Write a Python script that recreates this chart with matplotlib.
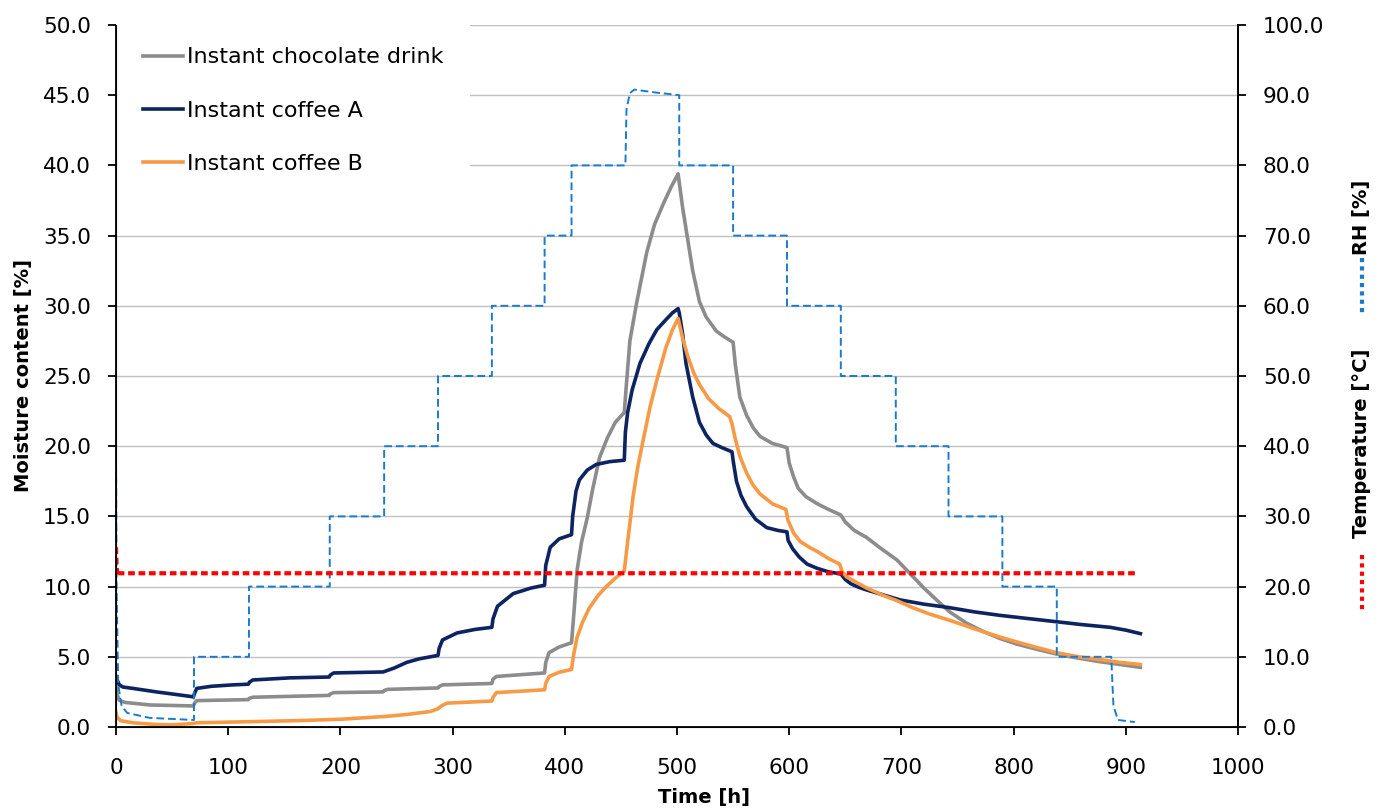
import numpy as np
import matplotlib.pyplot as plt
from matplotlib.lines import Line2D

plt.rcParams['font.family'] = ['DejaVu Sans']

# moisture content [%] vs time [h]
choc_t = [0, 1, 3, 8, 30, 69, 70, 72, 118, 119, 122, 190, 191, 194, 238, 239, 242,
          287, 288, 291, 335, 336, 339, 382, 383, 386, 395, 406, 408, 411, 415, 420,
          425, 431, 438, 445, 453, 455, 458, 464, 473, 480, 488, 495, 501, 505, 509,
          514, 520, 526, 535, 542, 550, 552, 556, 562, 568, 574, 585, 598, 600, 604,
          608, 615, 625, 635, 646, 650, 658, 669, 682, 696, 708, 720, 732, 743, 758,
          773, 788, 803, 820, 838, 858, 877, 895, 913]
choc_v = [2.9, 2.3, 1.9, 1.75, 1.57, 1.5, 1.7, 1.88, 1.95, 2.05, 2.12, 2.25, 2.35, 2.45,
          2.5, 2.6, 2.68, 2.78, 2.88, 3.0, 3.1, 3.4, 3.6, 3.85, 4.6, 5.3, 5.7, 6.0, 8.0,
          11.2, 13.2, 14.9, 17.0, 19.2, 20.6, 21.7, 22.4, 24.5, 27.5, 30.2, 33.8, 35.8,
          37.3, 38.5, 39.4, 37.0, 35.0, 32.5, 30.3, 29.2, 28.2, 27.8, 27.4, 25.8, 23.5,
          22.2, 21.3, 20.7, 20.2, 19.9, 18.8, 17.8, 17.0, 16.4, 15.9, 15.5, 15.1, 14.6,
          14.0, 13.5, 12.7, 11.9, 10.9, 9.9, 9.0, 8.2, 7.4, 6.8, 6.3, 5.9, 5.55, 5.2,
          4.9, 4.65, 4.45, 4.25]

coffA_t = [0, 1, 3, 6, 15, 36, 55, 69, 70, 72, 85, 104, 118, 119, 122, 155, 190, 191,
           194, 238, 248, 259, 270, 287, 288, 291, 304, 320, 335, 336, 340, 354, 370,
           382, 383, 387, 395, 406, 407, 410, 413, 420, 428, 440, 453, 454, 456, 460,
           467, 475, 482, 490, 496, 501, 502, 505, 508, 514, 520, 526, 532, 540, 549,
           550, 553, 557, 562, 570, 580, 590, 598, 599, 603, 609, 616, 625, 635, 646,
           650, 655, 662, 669, 680, 699, 720, 743, 765, 788, 810, 838, 860, 886, 900, 913]
coffA_v = [3.6, 3.35, 3.0, 2.85, 2.75, 2.5, 2.3, 2.15, 2.4, 2.75, 2.9, 3.0, 3.05, 3.2,
           3.35, 3.5, 3.56, 3.7, 3.85, 3.92, 4.2, 4.6, 4.85, 5.1, 5.6, 6.2, 6.7, 6.95,
           7.1, 7.7, 8.6, 9.5, 9.9, 10.1, 11.5, 12.8, 13.4, 13.7, 15.0, 16.8, 17.6, 18.3,
           18.7, 18.9, 19.0, 21.0, 22.4, 24.0, 25.9, 27.3, 28.3, 29.0, 29.5, 29.8, 29.5,
           28.0, 25.9, 23.5, 21.7, 20.8, 20.2, 19.9, 19.6, 19.0, 17.5, 16.5, 15.7, 14.8,
           14.2, 14.0, 13.9, 13.3, 12.7, 12.1, 11.6, 11.3, 11.05, 10.9, 10.5, 10.2, 9.95,
           9.76, 9.5, 9.05, 8.75, 8.5, 8.2, 7.95, 7.75, 7.5, 7.3, 7.1, 6.9, 6.65]

coffB_t = [0, 1, 4, 15, 35, 50, 69, 72, 120, 160, 200, 240, 260, 280, 287, 290, 295,
           335, 336, 339, 382, 383, 386, 395, 406, 408, 411, 416, 422, 430, 437, 445,
           453, 455, 458, 461, 465, 470, 476, 482, 490, 496, 501, 505, 510, 515, 520,
           528, 537, 547, 549, 552, 556, 562, 568, 574, 585, 597, 599, 604, 610, 618,
           625, 635, 645, 647, 651, 660, 669, 683, 696, 710, 725, 743, 765, 788, 812,
           838, 858, 877, 895, 913]
coffB_v = [1.0, 0.7, 0.45, 0.3, 0.18, 0.15, 0.25, 0.3, 0.38, 0.45, 0.55, 0.75, 0.9, 1.1,
           1.3, 1.5, 1.7, 1.85, 2.1, 2.45, 2.65, 3.1, 3.6, 3.9, 4.1, 5.2, 6.4, 7.5, 8.5,
           9.4, 10.0, 10.6, 11.1, 12.5, 14.5, 16.5, 18.5, 20.5, 22.8, 24.7, 27.0, 28.3,
           29.1, 27.7, 26.3, 25.2, 24.4, 23.4, 22.7, 22.1, 21.6, 20.5, 19.3, 18.1, 17.2,
           16.6, 15.9, 15.5, 14.7, 13.8, 13.2, 12.8, 12.5, 12.0, 11.6, 11.1, 10.7, 10.3,
           9.9, 9.4, 9.0, 8.5, 8.05, 7.6, 7.0, 6.4, 5.85, 5.3, 5.0, 4.8, 4.6, 4.45]

# chamber conditions (secondary axis)
rh_t = [0, 0.5, 2, 5, 10, 30, 69.5, 69.5, 118.5, 118.5, 190.5, 190.5, 239, 239, 287,
        287, 335, 335, 382, 382, 406, 406, 454, 455, 458, 462, 480, 502, 502, 550, 550,
        598, 598, 646, 646, 695, 695, 742, 742, 790, 790, 838.5, 838.5, 887, 889, 893, 908]
rh_v = [39, 20, 6, 3, 2, 1.3, 1.0, 10, 10, 20, 20, 30, 30, 40, 40, 50, 50, 60, 60, 70,
        70, 80, 80, 88, 90.3, 90.8, 90.4, 90.0, 80, 80, 70, 70, 60, 60, 50, 50, 40, 40,
        30, 30, 20, 20, 10, 10, 3, 1, 0.7]
temp_t = [0, 0.5, 1.2, 2, 911]
temp_v = [25.6, 23.0, 21.5, 21.9, 21.9]

labels = ['Instant chocolate drink', 'Instant coffee A', 'Instant coffee B']
colors = ['#8c8c8c', '#0d2461', '#f79a46']

fig = plt.figure(figsize=(13.82, 8.10), dpi=100)
ax = fig.add_subplot(111)
fig.subplots_adjust(left=116/1382, right=1238/1382, bottom=1-727/810, top=1-25/810)

for t, v, lab, c in zip([choc_t, coffA_t, coffB_t], [choc_v, coffA_v, coffB_v],
                        labels, colors):
    ax.plot(t, v, color=c, lw=2.6, label=lab, solid_joinstyle='round')

ax.set_xlim(0, 1000)
ax.set_ylim(0, 50)
ax.set_xticks(np.arange(0, 1001, 100))
ax.set_yticks(np.arange(0, 50.1, 5))
ax.yaxis.set_major_formatter(plt.FormatStrFormatter('%.1f'))
ax.grid(axis='y', color='#c0c0c0', lw=1.0)
ax.set_axisbelow(True)
ax.spines['top'].set_visible(False)
for s in ['left', 'bottom', 'right']:
    ax.spines[s].set_linewidth(1.3)
ax.tick_params(labelsize=15.5, length=6, width=1.3, direction='out')
ax.tick_params(axis='y', pad=12)
ax.tick_params(axis='x', pad=16)
ax.set_xlabel('Time [h]', fontsize=14, fontweight='bold')
ax.set_ylabel('Moisture content [%]', fontsize=14, fontweight='bold')
ax.xaxis.set_label_coords(0.524, -0.087)
ax.yaxis.set_label_coords(-0.074, 0.5)

leg = ax.legend(loc='upper left', bbox_to_anchor=(0.0, 1.006), fontsize=16,
                frameon=True, facecolor='white', edgecolor='none', framealpha=1,
                fancybox=False, handlelength=1.8, handletextpad=0.18,
                labelspacing=1.5, borderpad=1.2, borderaxespad=0)

ax2 = ax.twinx()
ax2.plot(rh_t, rh_v, color='#1a7acb', lw=1.4, dashes=(4, 2))
ax2.plot(temp_t, temp_v, color='#ff0000', lw=3.0, dashes=(1.6, 0.9))
ax2.set_ylim(0, 100)
ax2.set_yticks(np.arange(0, 100.1, 10))
ax2.yaxis.set_major_formatter(plt.FormatStrFormatter('%.1f'))
ax2.spines['top'].set_visible(False)
ax2.spines['right'].set_linewidth(1.3)
ax2.tick_params(labelsize=15.5, length=6, width=1.3, direction='out', pad=12)

# secondary axis titles with key lines
fig.text(0.9855, 0.7315, 'RH [%]', rotation=90, ha='center', va='center',
         fontsize=14, fontweight='bold')
fig.text(0.9855, 0.4525, 'Temperature [°C]', rotation=90, ha='center', va='center',
         fontsize=14, fontweight='bold')
fig.add_artist(Line2D([0.9855, 0.9855], [0.6815, 0.611], transform=fig.transFigure,
                      color='#1a7acb', lw=3, linestyle=(0, (1, 1))))
fig.add_artist(Line2D([0.9855, 0.9855], [0.315, 0.2444], transform=fig.transFigure,
                      color='#ff0000', lw=3, linestyle=(0, (1, 1))))

fig.savefig('out.png', dpi=100)
